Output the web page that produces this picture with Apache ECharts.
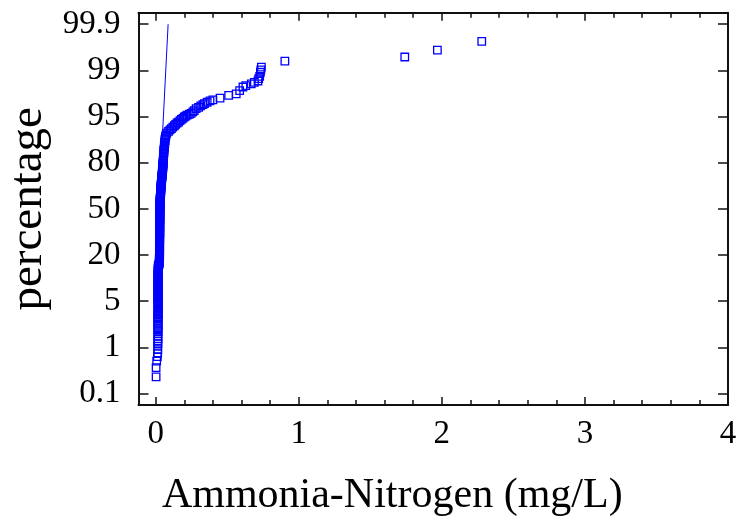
<!DOCTYPE html>
<html><head><meta charset="utf-8">
<script src="https://cdn.jsdelivr.net/npm/echarts@6/dist/echarts.min.js"></script>
<style>html,body{margin:0;padding:0;background:#fff}#c{width:738px;height:523px}</style>
</head><body><div id="c"></div>
<script>
// y values are positions on the evenly spaced probability axis (0 = 0.1%, 8 = 99.9%)
const yTickLabels = ['0.1','1','5','20','50','80','95','99','99.9'];
const xTickValues = [0, 1, 2, 3, 4];
const xName = 'Ammonia-Nitrogen (mg/L)';
const yName = 'percentage';

const lowerTail = [[0.003,0.36],[0.003,0.56],[0.007,0.70],[0.012,0.80],[0.014,0.88],[0.015,0.95],[0.014,1.02],[0.016,1.08],[0.015,1.14],[0.016,1.19],[0.015,1.24],[0.016,1.29],[0.017,1.34],[0.015,1.38],[0.016,1.42],[0.017,1.46],[0.016,1.50],[0.015,1.54],[0.017,1.58],[0.016,1.61],[0.016,1.64],[0.017,1.67],[0.016,1.70],[0.017,1.73],[0.016,1.76],[0.017,1.79],[0.016,1.82],[0.017,1.85],[0.018,1.88],[0.016,1.91],[0.017,1.94],[0.018,1.97],[0.017,2.00]];
const colLow = [[0.016,2.02],[0.017,2.04],[0.016,2.06],[0.018,2.08],[0.017,2.10],[0.016,2.12],[0.017,2.14],[0.018,2.16],[0.016,2.18],[0.017,2.20],[0.017,2.22],[0.018,2.24],[0.016,2.26],[0.017,2.28],[0.018,2.30],[0.017,2.32],[0.016,2.34],[0.018,2.36],[0.017,2.38],[0.017,2.40],[0.018,2.42],[0.016,2.44],[0.017,2.46],[0.018,2.48],[0.017,2.50],[0.017,2.52],[0.018,2.54],[0.017,2.56],[0.016,2.58],[0.018,2.60],[0.017,2.62],[0.018,2.64],[0.017,2.66],[0.018,2.68],[0.017,2.70],[0.018,2.72],[0.019,2.74],[0.018,2.76],[0.019,2.78]];
const colMid = [[0.024,2.80],[0.025,2.82],[0.026,2.84],[0.025,2.86],[0.027,2.88],[0.026,2.90],[0.025,2.92],[0.027,2.94],[0.026,2.96],[0.028,2.98],[0.027,3.00],[0.026,3.02],[0.027,3.04],[0.028,3.06],[0.026,3.08],[0.027,3.10],[0.028,3.12],[0.027,3.14],[0.026,3.16],[0.028,3.18],[0.027,3.20],[0.028,3.22],[0.027,3.24],[0.026,3.26],[0.028,3.28],[0.027,3.30],[0.028,3.32],[0.027,3.34],[0.029,3.36],[0.027,3.38],[0.028,3.40],[0.027,3.42],[0.028,3.44],[0.029,3.46],[0.027,3.48],[0.028,3.50],[0.029,3.52],[0.028,3.54],[0.027,3.56],[0.029,3.58],[0.028,3.60],[0.029,3.62],[0.028,3.64],[0.027,3.66],[0.029,3.68],[0.028,3.70],[0.029,3.72],[0.028,3.74],[0.030,3.76],[0.028,3.78],[0.029,3.80],[0.028,3.82],[0.029,3.84],[0.030,3.86],[0.028,3.88],[0.029,3.90],[0.030,3.92],[0.029,3.94],[0.028,3.96],[0.030,3.98],[0.029,4.00],[0.030,4.02],[0.029,4.04],[0.031,4.06],[0.030,4.08],[0.029,4.10],[0.031,4.12],[0.030,4.14],[0.031,4.16],[0.030,4.18],[0.031,4.20]];
const colHigh = [[0.032,4.22],[0.031,4.24],[0.033,4.26],[0.034,4.28],[0.033,4.30],[0.035,4.32],[0.034,4.34],[0.035,4.36],[0.036,4.38],[0.035,4.40],[0.037,4.42],[0.036,4.44],[0.037,4.46],[0.038,4.48],[0.037,4.50],[0.039,4.52],[0.038,4.54],[0.040,4.56],[0.041,4.58],[0.040,4.60],[0.042,4.62],[0.041,4.64],[0.043,4.66],[0.044,4.68],[0.043,4.70],[0.045,4.72],[0.044,4.74],[0.046,4.76],[0.047,4.78],[0.046,4.80],[0.048,4.82],[0.047,4.84],[0.049,4.86],[0.050,4.88],[0.049,4.90],[0.051,4.92],[0.050,4.94],[0.051,4.96],[0.052,4.98],[0.051,5.00]];
const colTop = [[0.052,5.03],[0.054,5.06],[0.053,5.09],[0.055,5.12],[0.056,5.15],[0.055,5.18],[0.057,5.21],[0.058,5.24],[0.057,5.27],[0.059,5.30],[0.061,5.33],[0.060,5.36],[0.062,5.39],[0.064,5.42],[0.063,5.45],[0.066,5.48],[0.065,5.51],[0.068,5.54],[0.070,5.57],[0.072,5.60]];
const bend = [[0.078,5.64],[0.09,5.68],[0.10,5.71],[0.11,5.74],[0.12,5.77],[0.131,5.80],[0.14,5.83],[0.15,5.86],[0.16,5.88],[0.17,5.91],[0.18,5.94],[0.19,5.96],[0.20,5.99],[0.21,6.01],[0.22,6.03],[0.235,6.05],[0.248,6.07],[0.26,6.10],[0.27,6.13],[0.283,6.17],[0.30,6.20],[0.315,6.23],[0.33,6.26],[0.341,6.28],[0.36,6.31],[0.38,6.34],[0.40,6.36],[0.45,6.40],[0.51,6.46],[0.563,6.49],[0.587,6.56],[0.61,6.64],[0.63,6.67],[0.668,6.71],[0.69,6.74],[0.715,6.77],[0.72,6.82],[0.727,6.87],[0.732,6.96],[0.735,7.01],[0.739,7.07]];
const upperTail = [[0.903,7.20],[1.741,7.29],[1.969,7.44],[2.279,7.63]];
const fitLine = [[0.048,5.63],[0.087,8.0]];

const points = [].concat(lowerTail, colLow, colMid, colHigh, colTop, bend, upperTail);

const minorX = [];
for (let i = 0; i <= 20; i++) minorX.push(+(i * 0.2).toFixed(1));
const yTicks = yTickLabels.map((_, i) => i);

const FONT = 'Liberation Serif';
const ink = '#111';
const X_MIN = -0.12, X_MAX = 4, Y_MIN = -0.25, Y_MAX = 8.25;

function xAx(pos, vals, len, showLine, labels) {
  return {
    type: 'value', position: pos, min: X_MIN, max: X_MAX,
    axisLine: {show: showLine, onZero: false, lineStyle: {color: ink, width: 2}},
    axisTick: {show: true, inside: true, length: len, customValues: vals, lineStyle: {color: ink, width: 1.5}},
    axisLabel: labels ? {show: true, customValues: xTickValues, margin: 13, color: '#000', fontFamily: FONT, fontSize: 33} : {show: false},
    splitLine: {show: false}
  };
}
function yAx(pos, labels) {
  return {
    type: 'value', position: pos, min: Y_MIN, max: Y_MAX,
    axisLine: {show: true, onZero: false, lineStyle: {color: ink, width: 2}},
    axisTick: {show: true, inside: true, length: 10, customValues: yTicks, lineStyle: {color: ink, width: 1.5}},
    axisLabel: labels ? {show: true, customValues: yTicks, margin: 18, color: '#000', fontFamily: FONT, fontSize: 33,
      formatter: v => yTickLabels[Math.round(v)]} : {show: false},
    splitLine: {show: false}
  };
}

const xAxes = [
  xAx('bottom', xTickValues, 8, true, true),
  xAx('bottom', minorX, 5, false, false),
  xAx('top', xTickValues, 8, true, false),
  xAx('top', minorX, 5, false, false)
];
xAxes[0].name = xName;
xAxes[0].nameLocation = 'middle';
xAxes[0].nameGap = 70;
xAxes[0].nameTextStyle = {fontFamily: FONT, fontSize: 42, color: '#000', padding: [0, 82, 0, 0]};

const yAxes = [yAx('left', true), yAx('right', false)];
yAxes[0].name = yName;
yAxes[0].nameLocation = 'middle';
yAxes[0].nameGap = 86;
yAxes[0].nameTextStyle = {fontFamily: FONT, fontSize: 47, color: '#000'};

const chart = echarts.init(document.getElementById('c'), null, {renderer: 'canvas'});
chart.setOption({
  animation: false,
  backgroundColor: '#fff',
  grid: {left: 138.5, right: 10, top: 12.7, bottom: 118, containLabel: false, outerBoundsMode: 'none'},
  xAxis: xAxes,
  yAxis: yAxes,
  series: [
    {type: 'line', data: fitLine, showSymbol: false, symbol: 'none', lineStyle: {color: '#0000ff', width: 1}, z: 3},
    {type: 'scatter', data: points, symbol: 'rect', symbolSize: 7.5,
      itemStyle: {color: 'rgba(255,255,255,0)', borderColor: '#0000ff', borderWidth: 1.3, opacity: 1}, z: 2}
  ]
});
</script></body></html>
